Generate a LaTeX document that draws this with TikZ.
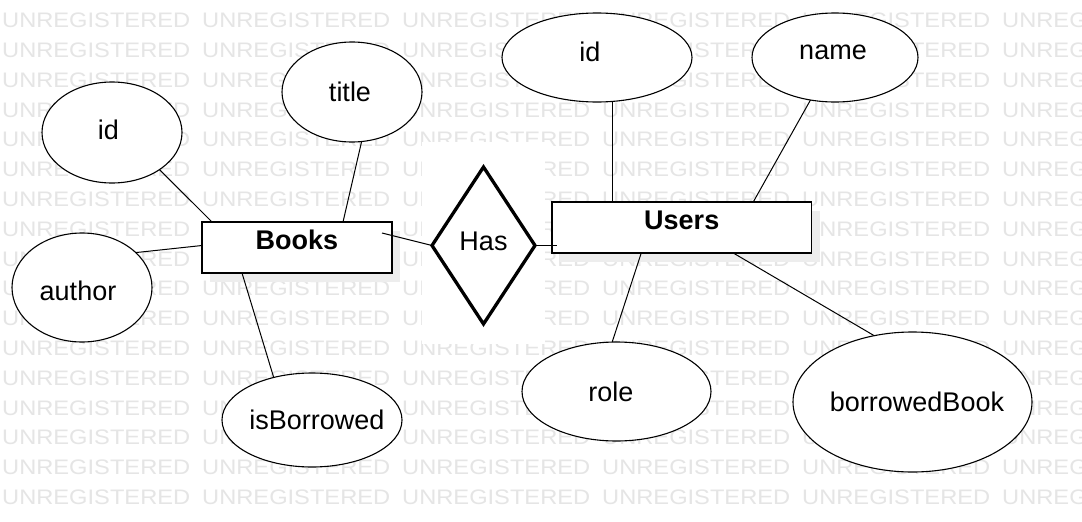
\documentclass[tikz,border=0pt]{standalone}
\usepackage{fontspec}
\setmainfont{Liberation Sans}
\newfontfamily\wmfont[FakeStretch=1.127]{Liberation Sans}
\usetikzlibrary{shapes,arrows,shadows}

\newcommand{\lblsize}{\fontsize{27}{32}\selectfont}

\begin{document}
\begin{tikzpicture}[x=1pt, y=-1pt, font=\lblsize]
		\tikzstyle {wm} = [anchor=west, inner sep=0pt, text=black!10, font=\wmfont\fontsize{21}{21}\selectfont]
		\tikzstyle {attr} = [ellipse, draw, line width=1.1pt, fill=white, inner sep=0pt, outer sep=0pt]
		\tikzstyle {entity} = [rectangle, draw, line width=1.3pt, fill=white, inner sep=0pt, outer sep=0pt, minimum height=51pt, text height=19.3pt, text depth=15pt, font=\lblsize\bfseries, drop shadow={shadow xshift=8pt, shadow yshift=-9pt, fill=black!7, opacity=1}]
		\tikzstyle {rel} = [diamond, draw, line width=3.3pt, fill=white, inner sep=0pt, outer sep=0pt, minimum width=103pt, minimum height=157pt, text height=19.3pt, text depth=9.6pt]
		\tikzstyle {link} = [line width=1pt]

		\useasboundingbox (0,0) rectangle (1082,522);
		\fill[white] (0,0) rectangle (1082,522);

		% watermark
		\begin{scope}
			\clip (0,0) rectangle (1082,522);
			\foreach \r in {0,...,16}
				\foreach \c in {0,...,5}
					\node[wm] at (2+200*\c, 20.5+29.8*\r) {UNREGISTERED};
		\end{scope}
		\fill[white] (422,142) rectangle (545,344);

		% entities and relation
		\node[entity, minimum width=190pt] (books) at (297,247.5) {Books};
		\node[entity, minimum width=259.5pt] (users) at (681.75,227.5) {Users};
		\node[rel] (has) at (483.5,245.5) {Has};

		% attributes
		\node[attr, minimum width=140pt, minimum height=101pt, label={[xshift=-3.5pt, yshift=2.5pt]center:id}] (bookid) at (112,132.5) {};
		\node[attr, minimum width=140pt, minimum height=100pt, label={[xshift=-2pt]center:title}] (title) at (352,92) {};
		\node[attr, minimum width=140pt, minimum height=109pt, label={[xshift=-4pt, yshift=-3.5pt]center:author}] (author) at (82,287.5) {};
		\node[attr, minimum width=180pt, minimum height=94pt, label={[xshift=5pt]center:isBorrowed}] (borrowed) at (312,420) {};
		\node[attr, minimum width=190pt, minimum height=89pt, label={[xshift=-7pt, yshift=5.5pt]center:id}] (userid) at (597,57.5) {};
		\node[attr, minimum width=166pt, minimum height=89pt, label={[xshift=-2pt, yshift=5.5pt]center:name}] (name) at (835,57.5) {};
		\node[attr, minimum width=189pt, minimum height=99pt, label={[xshift=-5.5pt]center:role}] (role) at (616.5,391.5) {};
		\node[attr, minimum width=239pt, minimum height=140pt, label={[xshift=4.5pt]center:borrowedBook}] (bbook) at (912.5,402) {};

		\draw[link] (bookid.-38) -- ([xshift=10pt]books.north west);
		\draw[link] (title.-79) -- ([xshift=46pt]books.north);
		\draw[link] (author.33) -- ([yshift=2pt]books.west);
		\draw[link] (borrowed.132) -- ([xshift=40pt]books.south west);
		\draw[link] ([xshift=-10pt, yshift=-11pt]books.north east) -- (has.west);
		\draw[link, shorten >=-5pt] (has.east) -- (has.east -| users.west);

		\draw[link] (userid.-70) -- (userid.-70 |- users.north);
		\draw[link] (name.-120) -- ([xshift=71.5pt]users.north);
		\draw[link] (role.95) -- ([xshift=-40.5pt]users.south);
		\draw[link] (bbook.120) -- ([xshift=51.5pt]users.south);
	\end{tikzpicture}
\end{document}
